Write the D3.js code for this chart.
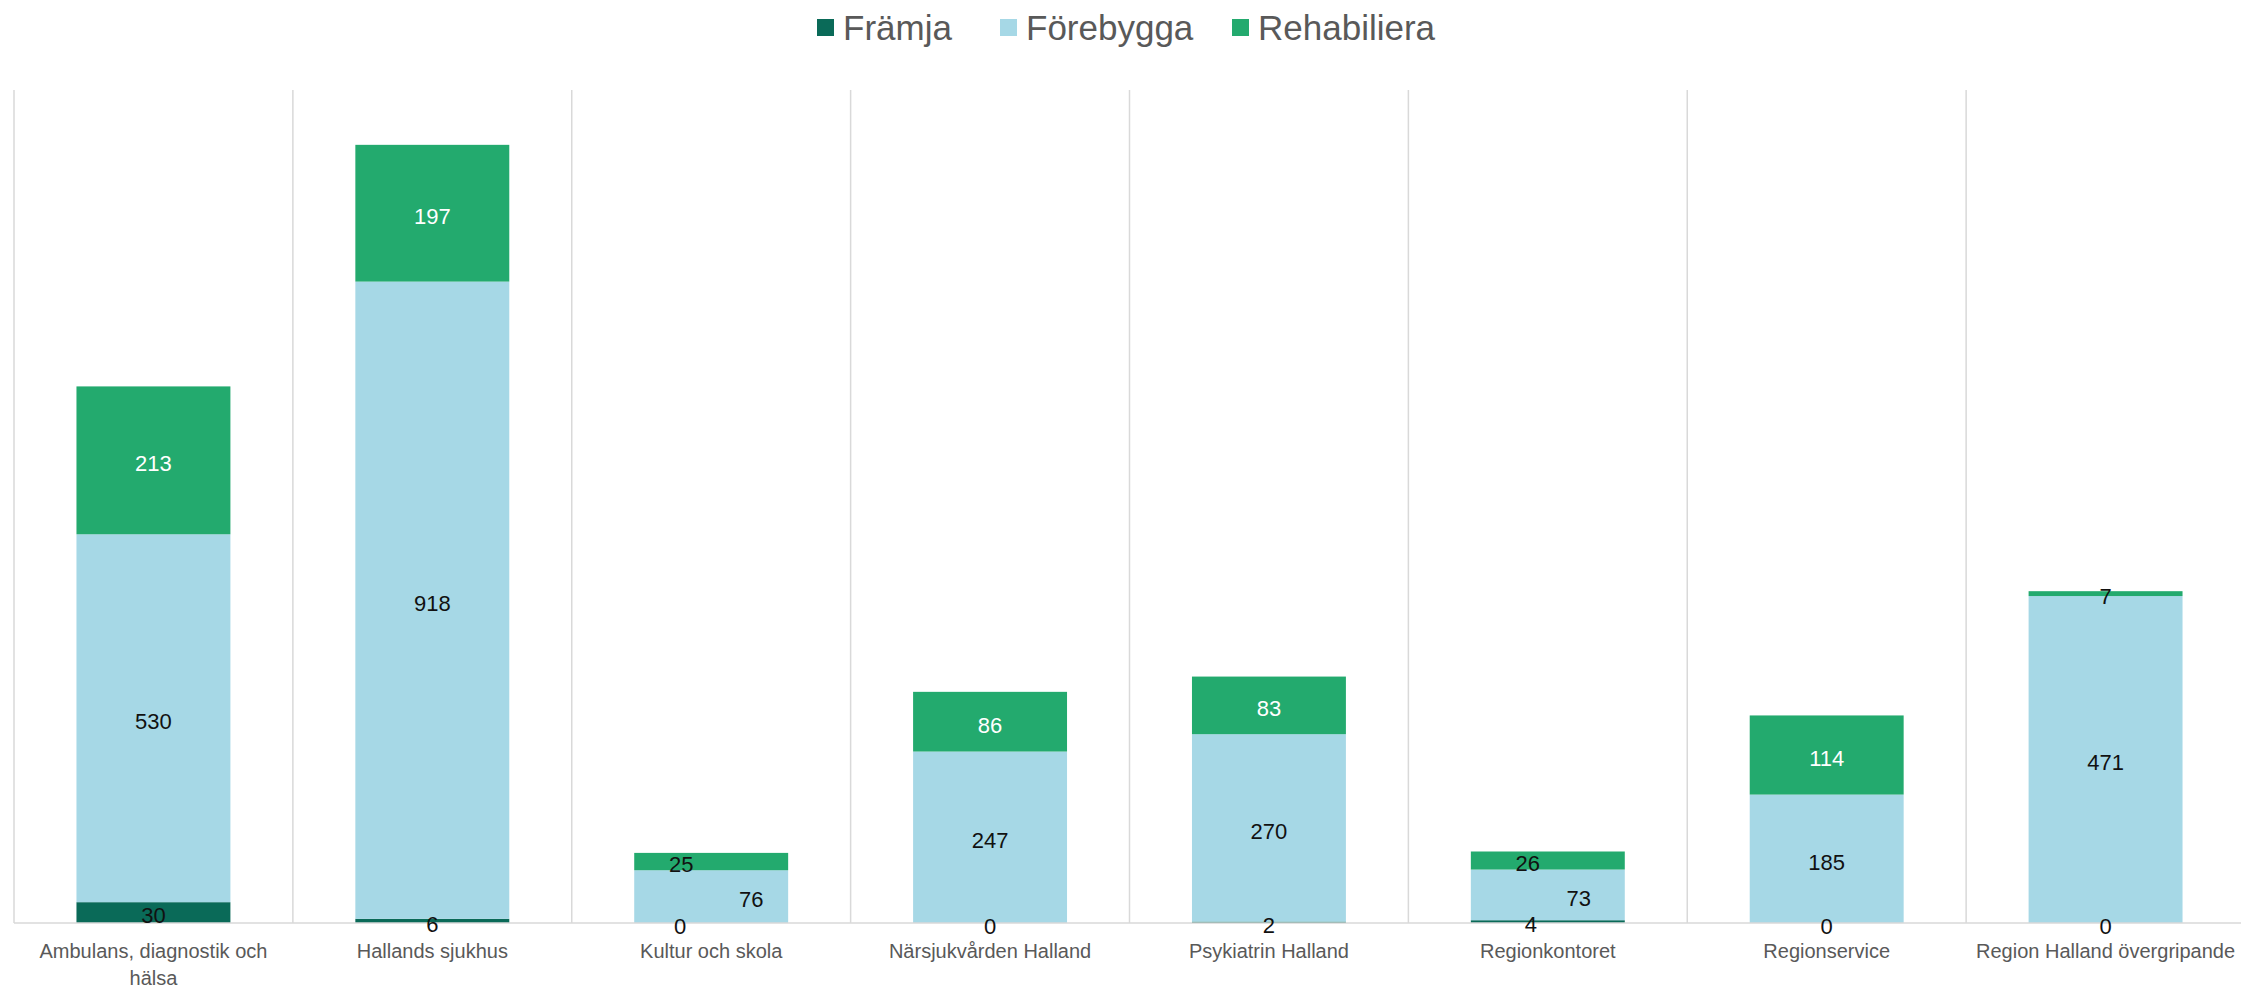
<!DOCTYPE html>
<html>
<head>
<meta charset="utf-8">
<script src="https://cdn.jsdelivr.net/npm/d3@7"></script>
<style>
  body { margin: 0; background: #fff; }
  text { font-family: "Liberation Sans", Arial, sans-serif; }
</style>
</head>
<body>
<svg></svg>
<script>
let w = 2241;
let h = 988;

// data
const categories = ['Ambulans, diagnostik och hälsa', 'Hallands sjukhus', 'Kultur och skola',
  'Närsjukvården Halland', 'Psykiatrin Halland', 'Regionkontoret', 'Regionservice',
  'Region Halland övergripande'];
const seriesNames = ['Främja', 'Förebygga', 'Rehabiliera'];
const framja = [30, 6, 0, 0, 2, 4, 0, 0];
const forebygga = [530, 918, 76, 247, 270, 73, 185, 471];
const rehabiliera = [213, 197, 25, 86, 83, 26, 114, 7];

const colors = ['#0a6a58', '#a6d8e6', '#23aa6e'];

// labels that sit on top of each other get pushed sideways (px)
const nudge = {
  'Kultur och skola': [-31, 40, -30],
  'Regionkontoret': [-17, 31, -20]
};

const rows = categories.map((c, i) => ({
  cat: c, 'Främja': framja[i], 'Förebygga': forebygga[i], 'Rehabiliera': rehabiliera[i]
}));
const stacked = d3.stack().keys(seriesNames)(rows);

const svg = d3.select('svg')
  .attr('width', w)
  .attr('height', h);

// Scales
const xScale = d3.scaleBand()
  .domain(categories)
  .range([14, 2245]);

const yScale = d3.scaleLinear()
  .domain([0, 1200])
  .range([923, 90]);

const barW = xScale.bandwidth() * 0.552;

// grid
svg.append('g')
  .selectAll('line')
  .data(categories.concat(['end']))
  .enter()
  .append('line')
  .attr('x1', (d, i) => 14 + i * xScale.bandwidth())
  .attr('x2', (d, i) => 14 + i * xScale.bandwidth())
  .attr('y1', yScale(1200))
  .attr('y2', yScale(0))
  .style('stroke', '#d9d9d9')
  .style('stroke-width', 1.5);

// Draw
const layer = svg.selectAll('g.layer')
  .data(stacked)
  .enter()
  .append('g')
  .attr('class', 'layer')
  .style('fill', (d, i) => colors[i]);

layer.selectAll('rect')
  .data(d => d)
  .enter()
  .append('rect')
  .attr('x', d => xScale(d.data.cat) + (xScale.bandwidth() - barW) / 2)
  .attr('y', d => yScale(d[1]))
  .attr('width', barW)
  .attr('height', d => yScale(d[0]) - yScale(d[1]));

// baseline
svg.append('line')
  .attr('x1', 14).attr('x2', w)
  .attr('y1', yScale(0)).attr('y2', yScale(0))
  .style('stroke', '#d9d9d9')
  .style('stroke-width', 1.5);

// value labels
stacked.forEach((s, si) => {
  svg.append('g')
    .selectAll('text')
    .data(s)
    .enter()
    .append('text')
    .attr('x', d => xScale(d.data.cat) + xScale.bandwidth() / 2 + (nudge[d.data.cat] ? nudge[d.data.cat][si] : 0))
    .attr('y', d => (yScale(d[0]) + yScale(d[1])) / 2 + 5)
    .attr('text-anchor', 'middle')
    .attr('dominant-baseline', 'middle')
    .style('font-size', '22px')
    .style('fill', d => (si === 2 && yScale(d[0]) - yScale(d[1]) > 30) ? '#ffffff' : '#111111')
    .text(d => d.data[s.key]);
});

// Axes
const xAxis = d3.axisBottom(xScale).tickSize(0).tickPadding(0);
const gx = svg.append('g')
  .attr('transform', 'translate(0,' + yScale(0) + ')')
  .call(xAxis);
gx.select('.domain').remove();
gx.selectAll('.tick text')
  .style('font-size', '20px')
  .style('font-family', '"Liberation Sans", Arial, sans-serif')
  .style('fill', '#595959')
  .attr('y', 35)
  .attr('dy', 0)
  .each(function(d) {
    if (d === 'Ambulans, diagnostik och hälsa') {
      const t = d3.select(this).text('');
      t.append('tspan').attr('x', 0).text('Ambulans, diagnostik och');
      t.append('tspan').attr('x', 0).attr('dy', 27).text('hälsa');
    }
  });

// Legend
const legendX = [817, 1000, 1232];
const legend = svg.append('g');
seriesNames.forEach((n, i) => {
  legend.append('rect')
    .attr('x', legendX[i]).attr('y', 19)
    .attr('width', 17).attr('height', 17)
    .style('fill', colors[i]);
  legend.append('text')
    .attr('x', legendX[i] + 26).attr('y', 40)
    .style('font-size', '35px')
    .style('fill', '#595959')
    .text(n);
});
</script>
</body>
</html>
